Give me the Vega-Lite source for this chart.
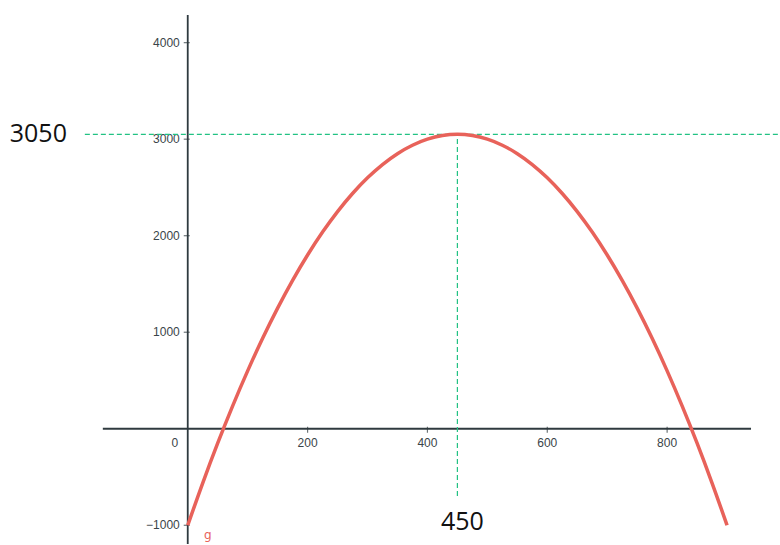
{
  "$schema": "https://vega.github.io/schema/vega-lite/v6.json",
  "width": 780,
  "height": 545,
  "padding": 0,
  "autosize": {"type": "fit", "contains": "padding"},
  "background": "white",
  "config": {"view": {"stroke": null}},
  "datasets": {
    "curve": [
      {"x": 0, "y": -1000}, {"x": 25, "y": -562.5}, {"x": 50, "y": -150}, {"x": 75, "y": 237.5},
      {"x": 100, "y": 600}, {"x": 125, "y": 937.5}, {"x": 150, "y": 1250}, {"x": 175, "y": 1537.5},
      {"x": 200, "y": 1800}, {"x": 225, "y": 2037.5}, {"x": 250, "y": 2250}, {"x": 275, "y": 2437.5},
      {"x": 300, "y": 2600}, {"x": 325, "y": 2737.5}, {"x": 350, "y": 2850}, {"x": 375, "y": 2937.5},
      {"x": 400, "y": 3000}, {"x": 425, "y": 3037.5}, {"x": 450, "y": 3050}, {"x": 475, "y": 3037.5},
      {"x": 500, "y": 3000}, {"x": 525, "y": 2937.5}, {"x": 550, "y": 2850}, {"x": 575, "y": 2737.5},
      {"x": 600, "y": 2600}, {"x": 625, "y": 2437.5}, {"x": 650, "y": 2250}, {"x": 675, "y": 2037.5},
      {"x": 700, "y": 1800}, {"x": 725, "y": 1537.5}, {"x": 750, "y": 1250}, {"x": 775, "y": 937.5},
      {"x": 800, "y": 600}, {"x": 825, "y": 237.5}, {"x": 850, "y": -150}, {"x": 875, "y": -562.5},
      {"x": 900, "y": -1000}
    ],
    "xticks": [{"v": 200, "label": "200"}, {"v": 400, "label": "400"}, {"v": 600, "label": "600"}, {"v": 800, "label": "800"}],
    "yticks": [{"v": 4000, "label": "4000"}, {"v": 3000, "label": "3000"}, {"v": 2000, "label": "2000"}, {"v": 1000, "label": "1000"}, {"v": -1000, "label": "−1000"}]
  },
  "encoding": {
    "x": {"type": "quantitative", "scale": {"domain": [-313.3, 986.7], "nice": false, "zero": false}, "axis": null},
    "y": {"type": "quantitative", "scale": {"domain": [-1194, 4442], "nice": false, "zero": false}, "axis": null}
  },
  "layer": [
    {
      "data": {"values": [{"x1": -141.7, "x2": 940, "y": 0}]},
      "mark": {"type": "rule", "color": "#2f3a3f", "strokeWidth": 1.8},
      "encoding": {"x": {"field": "x1"}, "x2": {"field": "x2"}, "y": {"field": "y"}}
    },
    {
      "data": {"values": [{"x": 0, "y1": -1194, "y2": 4286}]},
      "mark": {"type": "rule", "color": "#2f3a3f", "strokeWidth": 1.8},
      "encoding": {"x": {"field": "x"}, "y": {"field": "y1"}, "y2": {"field": "y2"}}
    },
    {
      "data": {"name": "xticks"},
      "mark": {"type": "tick", "orient": "vertical", "size": 6, "thickness": 1.2, "color": "#2f3a3f", "yOffset": 1},
      "encoding": {"x": {"field": "v"}, "y": {"datum": 0}}
    },
    {
      "data": {"name": "yticks"},
      "mark": {"type": "tick", "orient": "horizontal", "size": 6, "thickness": 1.2, "color": "#2f3a3f", "xOffset": -1},
      "encoding": {"y": {"field": "v"}, "x": {"datum": 0}}
    },
    {
      "data": {"name": "xticks"},
      "mark": {"type": "text", "fontSize": 12, "font": "Liberation Sans", "color": "#3a4448", "dy": 14, "baseline": "middle", "align": "center"},
      "encoding": {"x": {"field": "v"}, "y": {"datum": 0}, "text": {"field": "label"}}
    },
    {
      "data": {"name": "yticks"},
      "mark": {"type": "text", "fontSize": 12, "font": "Liberation Sans", "color": "#3a4448", "dx": -8, "baseline": "middle", "align": "right"},
      "encoding": {"y": {"field": "v"}, "x": {"datum": 0}, "text": {"field": "label"}}
    },
    {
      "data": {"values": [{"label": "0"}]},
      "mark": {"type": "text", "fontSize": 12, "font": "Liberation Sans", "color": "#3a4448", "dx": -13, "dy": 14, "baseline": "middle", "align": "center"},
      "encoding": {"x": {"datum": 0}, "y": {"datum": 0}, "text": {"field": "label"}}
    },
    {
      "data": {"values": [{"x1": -171.7, "x2": 986.7, "y": 3050}]},
      "mark": {"type": "rule", "color": "#22c283", "strokeWidth": 1.2, "strokeDash": [5, 3]},
      "encoding": {"x": {"field": "x1"}, "x2": {"field": "x2"}, "y": {"field": "y"}}
    },
    {
      "data": {"values": [{"x": 450, "y1": -698, "y2": 3050}]},
      "mark": {"type": "rule", "color": "#22c283", "strokeWidth": 1.2, "strokeDash": [5, 3]},
      "encoding": {"x": {"field": "x"}, "y": {"field": "y1"}, "y2": {"field": "y2"}}
    },
    {
      "data": {"name": "curve"},
      "mark": {"type": "line", "color": "#e8625a", "strokeWidth": 3.5, "interpolate": "monotone", "strokeCap": "butt"},
      "encoding": {"x": {"field": "x"}, "y": {"field": "y"}}
    },
    {
      "data": {"values": [{"x": -297, "y": 3050, "label": "3050"}]},
      "mark": {"type": "text", "fontSize": 25, "font": "Open Sans", "color": "#111111", "align": "left", "baseline": "middle"},
      "encoding": {"x": {"field": "x"}, "y": {"field": "y"}, "text": {"field": "label"}}
    },
    {
      "data": {"values": [{"x": 450, "y": -967, "label": "450"}]},
      "mark": {"type": "text", "fontSize": 25, "font": "Open Sans", "color": "#111111", "align": "center", "baseline": "middle", "dx": 5},
      "encoding": {"x": {"field": "x"}, "y": {"field": "y"}, "text": {"field": "label"}}
    },
    {
      "data": {"values": [{"x": 0, "y": -1000, "label": "g"}]},
      "mark": {"type": "text", "fontSize": 12, "font": "DejaVu Sans", "color": "#e8625a", "align": "center", "baseline": "middle", "dx": 20, "dy": 10},
      "encoding": {"x": {"field": "x"}, "y": {"field": "y"}, "text": {"field": "label"}}
    }
  ]
}
